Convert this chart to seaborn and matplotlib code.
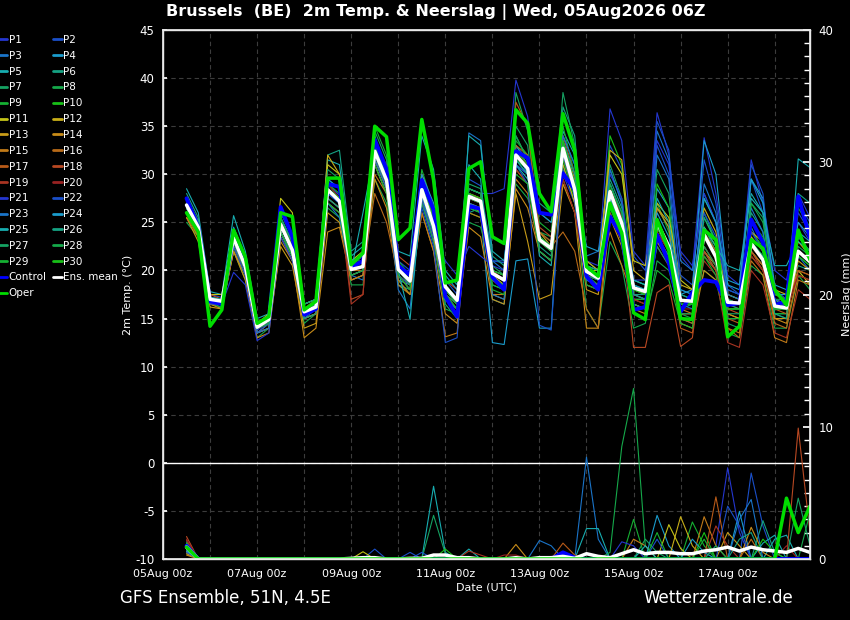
import numpy as np
import pandas as pd
import matplotlib
matplotlib.use("Agg")
import matplotlib.pyplot as plt
import matplotlib.dates as mdates
from matplotlib.ticker import MultipleLocator
from matplotlib.lines import Line2D
import seaborn as sns

# ---------------- data ----------------
times = pd.date_range("2026-08-05 12:00", periods=54, freq="6h")

mean_t = [26.8, 24.5, 17.0, 16.8, 23.4, 20.4, 14.1, 14.9, 24.8, 22.1, 15.7, 16.2, 28.4, 27.2,
          20.1, 20.4, 32.4, 29.4, 20.1, 18.9, 28.4, 24.6, 18.3, 16.9, 27.7, 27.2, 19.7, 19.0,
          32.0, 30.6, 23.2, 22.3, 32.7, 28.4, 19.9, 19.2, 28.2, 24.9, 18.2, 17.8, 25.0, 22.5,
          16.9, 16.8, 23.7, 21.4, 16.7, 16.6, 22.8, 21.1, 16.3, 16.1, 22.0, 20.9]
control_t = [27.5, 24.5, 16.8, 16.5, 23.5, 20.5, 14.2, 15.0, 26.6, 23.5, 15.4, 16.0, 29.0, 28.7,
             20.3, 21.0, 33.6, 30.5, 20.5, 19.5, 29.4, 26.3, 17.3, 15.2, 26.7, 26.4, 19.3, 18.0,
             32.4, 31.7, 26.0, 25.8, 30.1, 28.4, 19.4, 18.0, 25.6, 23.5, 15.9, 16.2, 23.7, 20.8,
             15.7, 17.7, 19.0, 18.8, 16.4, 16.6, 25.3, 22.9, 16.4, 16.8, 27.7, 23.4]
oper_t = [26.0, 24.0, 14.2, 15.9, 24.2, 21.4, 14.5, 15.2, 26.0, 25.6, 15.9, 16.8, 29.6, 29.6,
          20.6, 21.8, 35.0, 33.9, 23.2, 24.4, 35.7, 29.4, 18.7, 19.0, 30.6, 31.3, 23.5, 22.8,
          36.7, 35.3, 28.0, 26.1, 36.3, 32.5, 20.4, 19.4, 27.0, 23.9, 15.6, 14.9, 25.3, 22.1,
          15.0, 14.9, 24.2, 23.2, 13.1, 14.2, 23.2, 22.3, 18.0, 16.4, 24.2, 21.1]

p01_t = [27.2, 24.8, 17.2, 17.0, 23.0, 20.0, 13.8, 14.6, 25.5, 22.8, 15.2, 16.0, 29.0, 27.8,
         19.5, 20.0, 33.0, 30.0, 20.5, 19.0, 27.0, 23.5, 17.0, 16.0, 28.5, 28.0, 28.0, 28.5,
         39.8, 36.0, 26.0, 25.0, 30.0, 27.0, 21.0, 20.5, 36.8, 33.5, 22.0, 20.5, 36.4, 32.0,
         21.5, 20.0, 33.8, 28.0, 19.5, 18.5, 31.5, 27.0, 20.0, 19.0, 25.0, 23.0]
p02_t = [27.5, 25.2, 17.5, 17.2, 24.0, 21.0, 14.5, 15.2, 25.0, 22.5, 16.0, 16.5, 29.5, 28.5,
         20.5, 21.0, 33.5, 30.5, 21.0, 20.0, 29.0, 25.5, 19.0, 17.5, 29.5, 28.8, 21.0, 20.8,
         33.0, 31.5, 23.5, 22.0, 30.5, 28.0, 20.5, 20.0, 33.0, 30.5, 21.5, 20.0, 33.0, 30.0,
         19.5, 18.5, 31.5, 27.0, 18.5, 17.5, 29.5, 26.0, 18.0, 17.0, 26.0, 24.0]
p03_t = [26.0, 24.0, 16.5, 16.5, 22.5, 19.5, 13.5, 14.5, 24.0, 21.5, 15.0, 15.5, 27.0, 26.0,
         19.5, 19.0, 31.0, 28.0, 19.5, 18.0, 27.0, 23.0, 17.0, 15.5, 34.3, 33.5, 21.0, 20.0,
         31.0, 30.0, 22.0, 21.0, 34.0, 31.0, 21.5, 22.0, 30.5, 27.0, 19.0, 18.5, 34.5, 31.5,
         21.0, 20.0, 28.0, 25.0, 18.0, 17.5, 24.5, 22.0, 15.5, 15.5, 21.5, 20.0]
p04_t = [26.5, 24.0, 16.8, 16.5, 23.8, 20.8, 14.0, 14.5, 24.5, 22.0, 15.5, 16.0, 27.5, 26.5,
         19.0, 19.5, 31.5, 29.0, 19.0, 18.5, 29.5, 26.0, 18.5, 17.0, 26.5, 26.0, 12.5, 12.3,
         21.0, 21.2, 14.0, 14.0, 33.5, 29.5, 22.5, 22.0, 26.0, 23.0, 17.0, 17.0, 28.5, 26.5,
         17.5, 18.0, 33.5, 30.0, 18.5, 18.0, 29.5, 27.5, 17.5, 17.5, 24.0, 23.0]
p05_t = [28.5, 26.0, 17.8, 17.5, 25.7, 22.0, 15.0, 15.5, 26.0, 23.5, 16.5, 17.0, 31.5, 31.0,
         21.5, 22.5, 34.0, 30.0, 22.0, 21.5, 34.0, 30.5, 20.0, 18.5, 31.0, 29.5, 17.0, 16.5,
         33.0, 31.0, 21.5, 20.5, 34.5, 32.0, 18.5, 18.0, 27.0, 24.0, 16.5, 16.0, 26.5, 24.5,
         15.0, 14.5, 22.0, 20.0, 16.0, 16.0, 27.5, 26.0, 17.0, 16.0, 31.6, 30.7]
p06_t = [28.0, 25.5, 17.0, 16.0, 22.5, 20.0, 13.5, 14.0, 24.0, 21.0, 16.0, 16.5, 32.0, 32.5,
         22.0, 23.0, 31.5, 28.5, 18.5, 18.0, 29.0, 25.0, 16.5, 15.0, 26.0, 26.5, 18.5, 18.0,
         34.0, 31.5, 22.5, 21.5, 37.0, 34.0, 20.0, 19.0, 27.5, 24.0, 17.5, 17.5, 23.0, 21.0,
         16.0, 16.5, 24.5, 22.0, 15.0, 15.0, 26.0, 24.0, 16.0, 17.0, 20.5, 20.0]
p07_t = [25.5, 24.0, 16.5, 16.8, 22.0, 19.5, 14.0, 15.0, 25.0, 22.0, 16.0, 16.8, 29.0, 27.5,
         20.0, 20.5, 33.0, 30.0, 20.0, 19.0, 27.5, 23.5, 17.5, 16.0, 29.0, 28.5, 20.5, 19.5,
         38.5, 34.5, 24.0, 23.0, 38.5, 33.0, 21.0, 20.0, 31.0, 27.5, 18.5, 18.0, 30.5, 28.0,
         17.0, 16.5, 26.0, 23.0, 14.5, 14.0, 22.0, 20.5, 15.5, 15.0, 22.5, 21.5]
p08_t = [25.0, 23.5, 16.5, 16.2, 22.0, 19.0, 13.0, 14.0, 23.5, 21.0, 14.5, 15.5, 26.5, 25.5,
         18.5, 18.5, 29.5, 27.0, 19.0, 17.5, 27.0, 23.0, 16.0, 15.5, 25.0, 24.5, 20.0, 19.5,
         29.0, 27.5, 24.0, 23.5, 31.0, 27.0, 16.0, 14.0, 23.0, 20.5, 14.0, 14.5, 21.0, 20.0,
         15.5, 15.0, 20.0, 19.0, 13.5, 13.0, 20.5, 19.5, 14.0, 14.0, 19.5, 18.0]
p09_t = [27.0, 24.8, 17.2, 17.0, 24.0, 21.0, 14.5, 15.0, 25.5, 22.5, 15.5, 16.0, 29.0, 28.0,
         21.0, 21.0, 35.0, 32.0, 21.0, 19.5, 30.5, 26.5, 18.5, 17.0, 26.0, 25.5, 18.5, 18.0,
         33.5, 32.0, 25.0, 24.0, 35.0, 30.0, 19.5, 18.5, 29.0, 25.5, 19.0, 18.5, 27.0, 24.0,
         17.0, 16.5, 27.5, 25.0, 17.5, 17.0, 24.0, 22.5, 16.5, 16.5, 23.5, 22.0]
p10_t = [26.5, 24.5, 17.0, 16.8, 23.0, 20.5, 14.2, 15.0, 24.5, 22.5, 16.0, 16.5, 28.0, 27.0,
         20.0, 20.5, 32.0, 29.5, 20.0, 19.0, 28.5, 25.0, 18.0, 17.0, 27.5, 27.0, 19.0, 18.5,
         31.5, 30.5, 23.0, 22.0, 33.0, 29.0, 19.0, 18.5, 34.0, 31.0, 17.0, 17.0, 29.0, 26.5,
         16.5, 16.5, 25.5, 23.0, 16.0, 16.0, 23.0, 21.5, 15.5, 15.5, 22.0, 21.0]
p11_t = [26.5, 24.5, 17.5, 17.5, 23.5, 20.5, 14.5, 15.5, 27.5, 26.0, 16.5, 17.0, 31.0, 30.0,
         21.0, 22.0, 33.0, 29.0, 20.5, 19.5, 29.0, 25.5, 18.0, 16.5, 28.0, 27.5, 19.5, 18.5,
         32.0, 30.5, 23.0, 22.0, 32.0, 28.0, 20.0, 20.0, 32.0, 30.0, 21.0, 20.5, 27.0, 25.5,
         19.0, 18.0, 24.5, 22.5, 17.5, 17.0, 23.5, 22.0, 17.0, 16.5, 20.0, 18.5]
p12_t = [26.0, 24.0, 16.8, 16.5, 23.0, 20.0, 14.0, 14.8, 24.5, 22.0, 15.0, 15.5, 32.0, 30.0,
         20.5, 21.0, 32.0, 29.0, 20.5, 19.0, 28.0, 24.0, 18.0, 17.0, 27.0, 26.5, 19.0, 18.5,
         30.5, 29.0, 24.0, 22.5, 31.0, 27.0, 21.0, 20.0, 32.5, 31.5, 20.0, 19.0, 26.5, 25.0,
         18.5, 18.0, 26.5, 24.0, 17.0, 16.5, 24.0, 23.0, 18.0, 17.5, 23.0, 21.5]
p13_t = [25.5, 23.0, 16.2, 16.0, 22.0, 19.5, 13.5, 14.0, 22.5, 20.5, 14.0, 14.5, 26.0, 25.0,
         19.5, 20.0, 31.0, 28.0, 19.5, 18.5, 27.5, 23.5, 17.0, 16.0, 27.0, 26.0, 17.5, 17.0,
         28.0, 23.0, 17.0, 17.5, 29.0, 26.0, 18.0, 17.5, 28.0, 25.0, 16.5, 16.0, 24.5, 22.0,
         15.5, 15.5, 22.0, 20.5, 15.5, 15.0, 21.5, 20.0, 15.0, 15.0, 21.0, 20.0]
p14_t = [26.0, 23.5, 16.5, 16.0, 22.0, 19.0, 13.0, 13.5, 23.0, 21.0, 13.0, 14.0, 24.0, 24.5,
         19.0, 19.5, 29.5, 26.5, 18.5, 17.5, 26.0, 22.0, 15.5, 14.5, 24.5, 23.5, 17.0, 16.5,
         28.5, 26.5, 22.0, 21.0, 29.5, 26.0, 14.0, 14.0, 25.5, 22.5, 16.0, 15.5, 26.5, 24.5,
         14.5, 14.0, 20.0, 19.0, 15.5, 15.0, 22.0, 20.5, 15.0, 14.5, 19.5, 19.0]
p15_t = [25.5, 23.5, 16.5, 16.5, 22.5, 19.5, 13.5, 14.5, 23.5, 21.0, 15.0, 15.5, 27.0, 26.0,
         19.0, 19.5, 30.0, 28.0, 19.0, 17.5, 26.0, 22.0, 13.1, 13.5, 26.0, 25.5, 17.5, 17.5,
         29.5, 28.0, 22.0, 21.0, 33.0, 29.5, 19.5, 19.0, 24.0, 20.5, 17.0, 16.5, 23.0, 21.0,
         16.0, 15.5, 22.5, 20.5, 14.0, 13.5, 21.0, 19.5, 13.0, 12.5, 19.0, 18.5]
p16_t = [26.0, 24.0, 16.8, 16.5, 23.0, 20.0, 13.5, 14.0, 24.0, 21.5, 15.5, 16.0, 28.0, 27.5,
         20.0, 20.0, 28.0, 25.0, 19.5, 18.0, 29.5, 26.0, 17.5, 16.5, 28.5, 28.0, 19.0, 18.0,
         33.0, 32.0, 23.0, 22.5, 24.0, 22.0, 16.0, 14.0, 28.0, 25.0, 17.5, 17.0, 24.0, 22.0,
         15.0, 14.5, 24.0, 22.0, 14.0, 13.0, 22.0, 20.5, 14.5, 14.0, 20.0, 19.5]
p17_t = [26.5, 24.0, 17.0, 16.5, 23.0, 20.0, 14.0, 14.5, 24.0, 21.5, 15.0, 15.5, 27.5, 26.5,
         19.5, 20.0, 31.5, 28.5, 19.5, 18.5, 28.0, 24.0, 17.5, 16.5, 27.5, 27.0, 19.5, 19.0,
         37.5, 35.0, 24.0, 23.0, 31.5, 28.0, 19.5, 19.0, 26.0, 23.0, 18.0, 17.5, 23.5, 21.5,
         14.0, 13.5, 21.5, 20.0, 15.0, 14.5, 22.5, 21.0, 16.0, 15.5, 20.0, 19.5]
p18_t = [27.0, 25.0, 17.5, 17.0, 23.5, 21.0, 14.5, 15.0, 25.0, 22.5, 16.0, 17.0, 28.5, 27.5,
         17.0, 17.5, 33.0, 31.0, 21.5, 20.5, 30.0, 26.5, 19.0, 18.0, 28.0, 27.5, 20.0, 19.5,
         32.5, 31.0, 24.5, 23.5, 34.0, 30.0, 20.0, 19.5, 27.0, 24.0, 12.0, 12.0, 17.7, 18.5,
         12.1, 13.0, 22.0, 20.0, 16.0, 15.5, 22.0, 20.0, 17.5, 17.0, 22.0, 21.0]
p19_t = [26.5, 24.5, 17.0, 17.0, 23.5, 20.5, 14.0, 15.0, 24.5, 22.0, 15.5, 16.0, 28.5, 27.0,
         16.5, 17.5, 32.5, 30.0, 20.0, 19.0, 28.5, 24.5, 18.0, 16.5, 27.5, 27.0, 19.5, 19.0,
         30.5, 29.0, 23.5, 22.5, 33.5, 29.0, 18.5, 18.0, 27.5, 24.5, 17.5, 17.0, 22.5, 20.5,
         15.5, 15.5, 21.0, 19.5, 12.5, 12.0, 20.0, 18.5, 13.5, 13.0, 18.0, 17.0]
p20_t = [27.0, 24.5, 17.0, 16.8, 23.5, 20.5, 14.0, 15.0, 25.0, 22.0, 16.0, 16.5, 29.0, 27.5,
         20.5, 21.0, 32.0, 29.0, 20.5, 19.5, 28.5, 25.0, 18.5, 17.0, 27.5, 27.0, 20.0, 19.0,
         32.5, 31.0, 23.5, 22.5, 29.5, 26.0, 19.0, 18.5, 28.5, 25.5, 17.0, 16.5, 24.0, 22.0,
         16.0, 16.0, 22.5, 20.5, 16.5, 16.0, 21.5, 20.0, 16.0, 16.0, 19.5, 19.0]
p21_t = [27.0, 24.5, 16.8, 16.5, 19.8, 18.5, 12.7, 13.5, 23.5, 21.0, 15.5, 16.5, 28.0, 27.0,
         20.5, 21.5, 32.5, 29.0, 20.0, 20.0, 27.5, 23.5, 21.0, 19.5, 22.5, 21.5, 20.5, 20.0,
         31.0, 30.0, 23.5, 22.5, 33.0, 29.0, 20.0, 19.5, 30.0, 27.5, 19.0, 19.0, 33.5, 31.0,
         22.0, 20.5, 28.0, 25.0, 17.0, 16.5, 24.0, 22.0, 16.0, 16.5, 28.0, 25.5]
p22_t = [26.5, 24.0, 16.5, 16.5, 22.5, 19.5, 13.5, 14.5, 24.5, 22.0, 16.0, 16.5, 28.0, 27.0,
         20.0, 20.5, 32.0, 29.0, 19.5, 18.5, 26.5, 22.5, 12.5, 13.0, 28.0, 27.0, 21.0, 21.0,
         31.0, 29.0, 14.3, 13.8, 32.0, 28.0, 19.5, 19.0, 28.0, 24.5, 18.0, 18.0, 35.5, 32.5,
         18.0, 17.5, 26.0, 23.5, 18.0, 17.5, 31.0, 28.0, 17.0, 16.5, 27.0, 25.0]
p23_t = [26.0, 24.0, 17.0, 16.5, 23.0, 20.0, 13.5, 14.0, 24.0, 21.5, 15.0, 16.0, 27.0, 25.5,
         19.5, 20.0, 31.5, 28.5, 18.0, 16.0, 27.5, 24.0, 17.0, 16.0, 27.0, 26.5, 17.5, 17.0,
         32.5, 30.0, 22.0, 21.0, 34.0, 31.0, 19.0, 18.5, 30.5, 27.0, 17.5, 17.0, 32.0, 29.5,
         16.5, 16.0, 29.0, 26.0, 17.5, 17.0, 26.5, 24.0, 16.0, 16.0, 23.5, 22.0]
p24_t = [27.5, 25.0, 17.2, 17.0, 24.5, 21.5, 14.5, 15.0, 25.5, 23.0, 16.5, 17.0, 29.5, 28.5,
         21.0, 21.5, 33.0, 30.0, 20.5, 19.5, 30.0, 27.0, 19.5, 18.0, 28.5, 28.0, 20.0, 19.5,
         31.5, 30.0, 23.5, 22.5, 33.0, 29.0, 20.0, 19.5, 27.5, 24.5, 18.5, 18.0, 26.0, 23.5,
         18.0, 17.5, 27.5, 25.0, 19.0, 18.5, 29.5, 27.0, 18.5, 18.0, 25.0, 23.5]
p25_t = [27.0, 24.5, 17.0, 17.0, 23.0, 20.5, 14.5, 15.0, 24.5, 22.0, 15.5, 16.0, 28.5, 27.5,
         20.0, 26.0, 32.5, 29.5, 20.0, 14.9, 28.0, 24.0, 18.5, 17.0, 34.0, 33.0, 22.0, 21.0,
         31.0, 29.5, 26.0, 25.0, 33.0, 29.0, 20.5, 20.0, 29.0, 26.0, 19.0, 18.5, 27.5, 25.0,
         17.5, 17.0, 24.5, 22.5, 20.5, 20.0, 28.0, 26.0, 20.5, 20.5, 23.0, 22.0]
p26_t = [26.5, 24.0, 16.8, 16.5, 23.5, 20.5, 14.0, 14.5, 24.0, 21.5, 15.0, 15.5, 27.5, 26.5,
         20.0, 20.5, 32.0, 29.0, 20.0, 19.0, 28.5, 24.5, 18.0, 16.5, 28.5, 28.0, 21.5, 20.5,
         31.5, 30.0, 27.0, 26.0, 33.5, 30.0, 20.5, 20.0, 29.5, 26.5, 17.5, 17.0, 23.5, 21.5,
         17.5, 17.0, 25.5, 23.0, 16.5, 16.0, 23.0, 21.5, 15.5, 15.0, 28.0, 27.0]
p27_t = [26.0, 24.5, 17.0, 16.5, 23.5, 20.5, 14.0, 15.0, 25.5, 23.0, 16.5, 17.0, 30.5, 29.5,
         20.5, 21.0, 34.5, 31.5, 20.0, 18.5, 29.0, 25.0, 17.5, 16.5, 27.5, 27.0, 19.5, 19.0,
         35.0, 33.0, 23.0, 22.0, 32.5, 28.5, 19.5, 19.0, 27.0, 23.5, 16.5, 16.0, 22.5, 20.5,
         15.5, 15.5, 22.5, 20.5, 15.5, 15.5, 27.0, 25.5, 17.0, 17.0, 21.5, 20.5]
p28_t = [27.5, 25.0, 17.0, 16.5, 24.0, 21.0, 14.0, 14.5, 24.5, 22.0, 15.5, 16.0, 28.5, 27.5,
         20.0, 20.5, 33.0, 30.0, 20.0, 19.0, 28.0, 24.0, 18.0, 16.5, 28.5, 28.0, 19.0, 18.5,
         34.0, 31.5, 23.5, 22.5, 33.0, 29.0, 20.0, 19.5, 29.0, 26.0, 18.0, 17.5, 24.5, 22.0,
         16.5, 16.5, 23.5, 21.5, 17.0, 16.5, 27.0, 25.0, 17.5, 17.0, 26.5, 24.5]
p29_t = [26.5, 24.5, 17.0, 16.8, 23.0, 20.0, 14.0, 14.8, 24.0, 21.5, 15.5, 16.0, 27.0, 26.0,
         19.5, 20.0, 31.0, 28.0, 19.5, 18.0, 29.5, 25.5, 17.5, 16.0, 26.5, 26.0, 18.0, 17.5,
         30.0, 29.0, 22.0, 21.0, 31.5, 27.5, 18.5, 18.0, 26.5, 23.5, 15.5, 15.0, 20.0, 19.0,
         14.5, 14.0, 21.5, 19.5, 15.0, 15.0, 25.0, 23.5, 16.0, 16.0, 23.5, 22.0]
p30_t = [27.0, 24.5, 17.0, 17.0, 23.5, 20.5, 14.5, 15.0, 25.0, 22.5, 16.0, 16.5, 28.5, 27.5,
         20.0, 20.5, 32.5, 29.5, 20.5, 19.0, 28.5, 25.0, 18.5, 17.0, 28.0, 27.5, 20.0, 19.5,
         32.5, 31.0, 23.5, 22.5, 33.5, 29.0, 20.0, 19.5, 28.5, 25.0, 18.0, 17.5, 25.0, 22.5,
         16.5, 16.5, 24.0, 21.5, 16.0, 16.0, 23.0, 21.0, 16.0, 16.0, 21.5, 20.5]

# precipitation (mm per 6h); listed as {time-step index: mm}, all other steps are 0
mean_rr = [0.9, 0, 0, 0, 0, 0, 0, 0, 0, 0, 0, 0, 0, 0,
           0.05, 0.1, 0.1, 0, 0, 0.05, 0.05, 0.3, 0.3, 0.1, 0.1, 0, 0, 0,
           0.1, 0, 0.1, 0.1, 0.2, 0.05, 0.4, 0.2, 0.1, 0.4, 0.7, 0.4, 0.5, 0.5,
           0.4, 0.4, 0.6, 0.7, 0.9, 0.6, 0.9, 0.7, 0.6, 0.5, 0.8, 0.5]
control_rr = {0: 1.0, 32: 0.5, 33: 0.1}
oper_rr = {0: 0.9, 51: 4.6, 52: 2.0, 53: 4.0}
p01_rr = {0: 0.8, 45: 1.0, 46: 6.9, 47: 2.0}
p02_rr = {0: 0.6, 16: 0.75, 19: 0.5, 48: 6.5, 49: 2.5}
p03_rr = {0: 0.9, 30: 1.4, 31: 1.0, 34: 7.7, 35: 1.5}
p04_rr = {0: 0.5, 40: 3.3, 41: 1.0, 47: 3.6}
p05_rr = {0: 1.2, 21: 5.5, 22: 0.5, 24: 0.75, 34: 2.3, 35: 2.3, 50: 1.5, 51: 1.8}
p06_rr = {0: 1.0, 49: 2.9, 50: 0.5}
p07_rr = {0: 1.3, 21: 3.3, 22: 0.4, 39: 1.5, 40: 0.5}
p08_rr = {0: 0.7, 36: 0.5, 37: 8.5, 38: 12.9, 39: 1.0}
p09_rr = {0: 0.9, 38: 3.0, 43: 2.8, 44: 1.0}
p10_rr = {0: 1.1, 22: 0.75, 44: 2.0}
p11_rr = {0: 0.5, 15: 0.55, 41: 2.6, 42: 0.8}
p12_rr = {0: 0.4, 42: 3.2, 43: 1.0}
p13_rr = {0: 0.6, 46: 2.0, 47: 1.0}
p14_rr = {0: 0.3, 28: 1.1, 48: 2.4, 49: 0.5}
p15_rr = {0: 0.8, 38: 1.5, 39: 1.0, 44: 3.2, 45: 1.0}
p16_rr = {0: 0.5, 48: 1.5}
p17_rr = {0: 1.0, 32: 1.2, 33: 0.3, 45: 4.7}
p18_rr = {0: 1.7, 52: 9.9, 53: 2.0}
p19_rr = {0: 1.4, 24: 0.6, 25: 0.3, 45: 2.5, 46: 1.0}
p20_rr = {0: 1.5, 27: 0.3, 28: 0.3, 51: 1.0}
p21_rr = {0: 0.7, 37: 1.3, 38: 1.0}
p22_rr = {0: 0.5, 20: 0.5, 40: 1.5, 46: 4.0, 47: 2.5}
p23_rr = {0: 0.8, 47: 3.0, 48: 4.5}
p24_rr = {0: 0.6, 43: 1.5, 44: 0.5}
p25_rr = {0: 0.9, 39: 1.0, 49: 1.2, 50: 1.8}
p26_rr = {0: 1.0, 47: 1.5, 48: 2.0}
p27_rr = {0: 1.1, 52: 4.6, 53: 1.0}
p28_rr = {0: 0.9, 45: 1.0, 53: 3.5}
p29_rr = {0: 1.2, 40: 2.0, 44: 1.5}
p30_rr = {0: 1.0, 49: 1.5, 50: 0.5}

member_labels = [f"P{i}" for i in range(1, 31)]
member_temps = [p01_t, p02_t, p03_t, p04_t, p05_t, p06_t, p07_t, p08_t, p09_t, p10_t,
                p11_t, p12_t, p13_t, p14_t, p15_t, p16_t, p17_t, p18_t, p19_t, p20_t,
                p21_t, p22_t, p23_t, p24_t, p25_t, p26_t, p27_t, p28_t, p29_t, p30_t]
member_rr = [p01_rr, p02_rr, p03_rr, p04_rr, p05_rr, p06_rr, p07_rr, p08_rr, p09_rr, p10_rr,
             p11_rr, p12_rr, p13_rr, p14_rr, p15_rr, p16_rr, p17_rr, p18_rr, p19_rr, p20_rr,
             p21_rr, p22_rr, p23_rr, p24_rr, p25_rr, p26_rr, p27_rr, p28_rr, p29_rr, p30_rr]

cycle_colors = ["#2436d0", "#1a4fc8", "#1a74c8", "#1a9ccc", "#17adb0", "#15a283", "#15a262",
                "#15a84a", "#15b032", "#18c018", "#c4c418", "#c8ae18", "#c89c18", "#c88c18",
                "#c07a18", "#b86a18", "#b85a18", "#b84822", "#a83422", "#982222"]

for i, t in enumerate(member_temps):
    assert len(t) == 54, (i + 1, len(t))
for arr in (mean_t, control_t, oper_t, mean_rr):
    assert len(arr) == 54, len(arr)


def full_rr(d):
    out = np.zeros(len(times))
    for k, v in d.items():
        out[k] = v
    return out


# ---------------- style ----------------
sns.set_theme(style="dark")
plt.rcParams["font.family"] = ["DejaVu Sans"]
plt.rcParams["axes.unicode_minus"] = False

fig = plt.figure(figsize=(8.5, 6.2), dpi=100, facecolor="black")
ax = fig.add_axes([163 / 850, 1 - 559 / 620, (810 - 163) / 850, (559 - 30) / 620])
ax.set_facecolor("black")
ax2 = ax.twinx()

# ---- temperature ----
for i, t in enumerate(member_temps):
    sns.lineplot(x=times, y=t, ax=ax, color=cycle_colors[i % 20], linewidth=0.8,
                 legend=False, estimator=None)
sns.lineplot(x=times, y=control_t, ax=ax, color="#0000ff", linewidth=2.8, legend=False, estimator=None)
sns.lineplot(x=times, y=mean_t, ax=ax, color="white", linewidth=2.5, legend=False, estimator=None)
sns.lineplot(x=times, y=oper_t, ax=ax, color="#00dd00", linewidth=2.5, legend=False, estimator=None)

ax.axhline(0, color="white", linewidth=1.0, zorder=5)
ax.set_ylim(-10, 45)
ax.set_yticks(range(-10, 46, 5))
x0 = pd.Timestamp("2026-08-05 00:00")
x1 = pd.Timestamp("2026-08-18 18:00")
ax.set_xlim(x0, x1)
ax.xaxis.set_major_locator(mdates.DayLocator(interval=2))
ax.xaxis.set_minor_locator(mdates.DayLocator(interval=1))
ax.xaxis.set_major_formatter(mdates.DateFormatter("%d%b %Hz"))
ax.grid(True, which="both", axis="x", color="#3c3c3c", linestyle=(0, (4, 3)), linewidth=0.8)
ax.grid(True, which="major", axis="y", color="#3c3c3c", linestyle=(0, (4, 3)), linewidth=0.8)
ax.tick_params(axis="both", which="both", colors="white", direction="in", labelsize=8)
ax.tick_params(axis="x", which="major", length=3, pad=7)
ax.tick_params(axis="x", which="minor", length=0)
ax.tick_params(axis="y", length=3, pad=6, labelsize=8.5)
ax.set_ylabel("2m Temp. (°C)", color="white", fontsize=8, labelpad=2)
ax.set_xlabel("Date (UTC)", color="white", fontsize=8, labelpad=3)
for sp in ax.spines.values():
    sp.set_color("#e8e8e8")
    sp.set_linewidth(1.0)

# ---- precipitation ----
for i, d in enumerate(member_rr):
    sns.lineplot(x=times, y=full_rr(d), ax=ax2, color=cycle_colors[i % 20], linewidth=0.8,
                 legend=False, estimator=None)
sns.lineplot(x=times, y=full_rr(control_rr), ax=ax2, color="#0000ff", linewidth=2.8, legend=False, estimator=None)
sns.lineplot(x=times, y=mean_rr, ax=ax2, color="white", linewidth=2.5, legend=False, estimator=None)
sns.lineplot(x=times, y=full_rr(oper_rr), ax=ax2, color="#00dd00", linewidth=2.5, legend=False, estimator=None)

ax2.set_ylim(0, 40)
ax2.set_yticks([0, 10, 20, 30, 40])
ax2.yaxis.set_minor_locator(MultipleLocator(1))
ax2.grid(False)
ax2.tick_params(axis="y", which="both", colors="white", direction="in", labelsize=8.5, pad=6)
ax2.tick_params(axis="y", which="major", length=5)
ax2.tick_params(axis="y", which="minor", length=4)
ax2.set_ylabel("Neerslag (mm)", color="white", fontsize=8, labelpad=6)
for sp in ax2.spines.values():
    sp.set_color("#e8e8e8")
ax2.set_xlim(x0, x1)

# ---- legend ----
handles = {}
for i, lab in enumerate(member_labels):
    handles[lab] = Line2D([], [], color=cycle_colors[i % 20], linewidth=2)
handles["Control"] = Line2D([], [], color="#0000ff", linewidth=2)
handles["Ens. mean"] = Line2D([], [], color="white", linewidth=2)
handles["Oper"] = Line2D([], [], color="#00dd00", linewidth=2)
col1 = [f"P{i}" for i in range(1, 31, 2)] + ["Control", "Oper"]
col2 = [f"P{i}" for i in range(2, 31, 2)] + ["Ens. mean"]
order = col1 + col2
fig.legend([handles[k] for k in order], order, loc="upper left",
           bbox_to_anchor=(-0.002, 1 - 35 / 620), ncol=2, frameon=False, fontsize=7.5,
           handlelength=0.85, handletextpad=0.15, columnspacing=0.6, labelspacing=0.56,
           borderaxespad=0, borderpad=0, labelcolor="white")

# ---- texts ----
fig.text(0.513, 1 - 12 / 620, "Brussels  (BE)  2m Temp. & Neerslag | Wed, 05Aug2026 06Z",
         ha="center", va="center", color="white", fontsize=11.5, fontweight="bold")
fig.text(120 / 850, 1 - 598 / 620, "GFS Ensemble, 51N, 4.5E", ha="left", va="center",
         color="white", fontsize=12)
fig.text(793 / 850, 1 - 598 / 620, "Wetterzentrale.de", ha="right", va="center",
         color="white", fontsize=12)

fig.savefig("out.png", dpi=100, facecolor="black")
